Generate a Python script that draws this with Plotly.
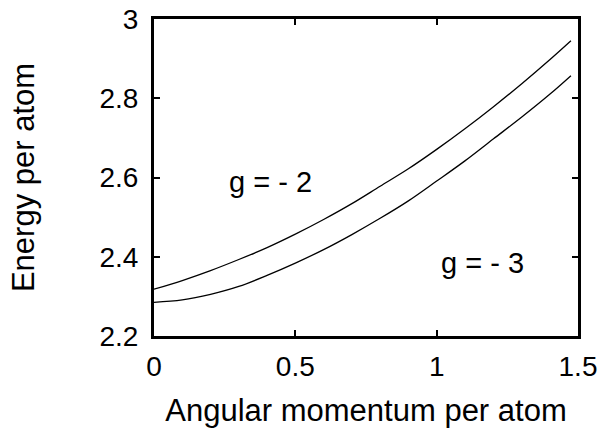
import plotly.graph_objects as go

# angular momentum per atom
x_vals = [0, 0.1, 0.2, 0.3, 0.4, 0.5, 0.6, 0.7, 0.8, 0.9, 1.0, 1.1, 1.2, 1.3, 1.4, 1.475]
# energy per atom, g = -2
e_g2 = [2.318, 2.340, 2.365, 2.393, 2.423, 2.457, 2.494, 2.534, 2.578, 2.622,
        2.671, 2.723, 2.778, 2.836, 2.897, 2.945]
# energy per atom, g = -3
e_g3 = [2.285, 2.291, 2.305, 2.325, 2.353, 2.384, 2.418, 2.456, 2.497, 2.541,
        2.591, 2.642, 2.697, 2.752, 2.810, 2.857]

x_ticks = [0, 0.5, 1, 1.5]
x_tick_text = ['0', '0.5', '1', '1.5']
y_ticks = [2.2, 2.4, 2.6, 2.8, 3.0]
y_tick_text = ['2.2', '2.4', '2.6', '2.8', '3']

labels = ['g = - 2', 'g = - 3']
label_x = [0.412, 1.161]
label_y = [2.589, 2.384]

FONT = 'Liberation Sans, Arial, sans-serif'

fig = go.Figure()
for yv in (e_g2, e_g3):
    fig.add_trace(go.Scatter(
        x=x_vals, y=yv, mode='lines', line=dict(color='black', width=1.3, shape='spline'),
        showlegend=False, hoverinfo='skip',
    ))

for txt, lx, ly in zip(labels, label_x, label_y):
    fig.add_annotation(x=lx, y=ly, text=txt, showarrow=False,
                       font=dict(family=FONT, size=29, color='black'))

axis_common = dict(
    showline=True, linecolor='black', linewidth=3, mirror='ticks',
    ticks='inside', ticklen=6, tickwidth=2, tickcolor='black',
    showgrid=False, zeroline=False, automargin=False,
    tickfont=dict(family=FONT, size=28, color='black'),
    title_font=dict(family=FONT, size=31, color='black'),
)

fig.update_xaxes(range=[0, 1.5], tickvals=x_ticks, ticktext=x_tick_text,
                 title_text='Angular momentum per atom', title_standoff=19,
                 ticklabelstandoff=3, **axis_common)
fig.update_yaxes(range=[2.2, 3.0], tickvals=y_ticks, ticktext=y_tick_text,
                 title_text='Energy per atom', title_standoff=56,
                 ticklabelstandoff=7, **axis_common)

fig.update_layout(
    width=606, height=433,
    margin=dict(l=154, r=28, t=19, b=97),
    plot_bgcolor='white', paper_bgcolor='white',
    font=dict(family=FONT, color='black'),
)

# drop the default 8px body margin so the figure fills the window
fig.write_html('out.html', config={'displayModeBar': False},
               post_script="document.body.style.margin='0';")
